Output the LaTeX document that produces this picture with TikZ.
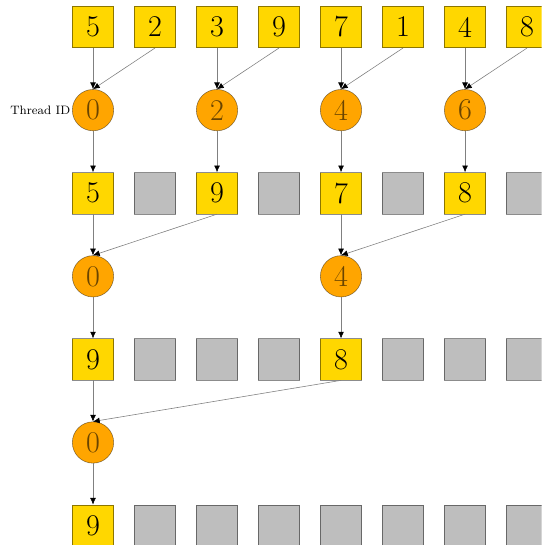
\documentclass[tikz,border=0pt]{standalone}
\usetikzlibrary{arrows.meta}

\definecolor{gold}{RGB}{255,215,0}
\definecolor{thread}{RGB}{255,165,0}
\definecolor{idtext}{RGB}{105,68,0}
\definecolor{unused}{RGB}{190,190,190}

\tikzset{
  val/.style={draw=black, draw opacity=0.45, fill=gold, minimum size=1cm, inner sep=0pt, font=\huge},
  pad/.style={draw=black, draw opacity=0.45, fill=unused, minimum size=1cm, inner sep=0pt},
  tid/.style={circle, draw=black, draw opacity=0.45, fill=thread, text=idtext, minimum size=1cm, inner sep=0pt, font=\huge},
  link/.style={draw=gray, -{Latex[color=black, length=4.6pt, width=4pt]}}
}

\begin{document}
\begin{tikzpicture}[y=2.01cm]
\clip (-2.25,0.654cm) rectangle (10.85,-12.53cm);

\foreach \v [count=\i from 0] in {5,2,3,9,7,1,4,8}
  \node[val] (r0c\i) at (1.5*\i,0) {\v};

% first reduction step
\foreach \i in {0,2,4,6}
  \node[tid] (t1c\i) at (1.5*\i,-1) {\i};
\node[left, font=\fontsize{8.4}{10}\selectfont, inner sep=1pt] (lbl) at (t1c0.west) {Thread ID};
\foreach \i in {0,2,4,6} {
  \pgfmathtruncatemacro\j{\i+1}
  \draw[link] (r0c\i.south) -- (t1c\i.north);
  \draw[link] (r0c\j.south) -- (t1c\i.north);
}

\foreach \i/\v in {0/5,2/9,4/7,6/8}
  \node[val] (r1c\i) at (1.5*\i,-2) {\v};
\foreach \i in {1,3,5,7}
  \node[pad] (r1c\i) at (1.5*\i,-2) {};
\foreach \i in {0,2,4,6}
  \draw[link] (t1c\i.south) -- (r1c\i.north);

% second reduction step
\foreach \i in {0,4}
  \node[tid] (t2c\i) at (1.5*\i,-3) {\i};
\foreach \i in {0,4} {
  \pgfmathtruncatemacro\j{\i+2}
  \draw[link] (r1c\i.south) -- (t2c\i.north);
  \draw[link] (r1c\j.south) -- (t2c\i.north);
}

\foreach \i/\v in {0/9,4/8}
  \node[val] (r2c\i) at (1.5*\i,-4) {\v};
\foreach \i in {1,2,3,5,6,7}
  \node[pad] (r2c\i) at (1.5*\i,-4) {};
\foreach \i in {0,4}
  \draw[link] (t2c\i.south) -- (r2c\i.north);

% last reduction step
\node[tid] (t3c0) at (0,-5) {0};
\draw[link] (r2c0.south) -- (t3c0.north);
\draw[link] (r2c4.south) -- (t3c0.north);

\node[val] (r3c0) at (0,-6) {9};
\foreach \i in {1,...,7}
  \node[pad] (r3c\i) at (1.5*\i,-6) {};
\draw[link] (t3c0.south) -- (r3c0.north);
\end{tikzpicture}
\end{document}
